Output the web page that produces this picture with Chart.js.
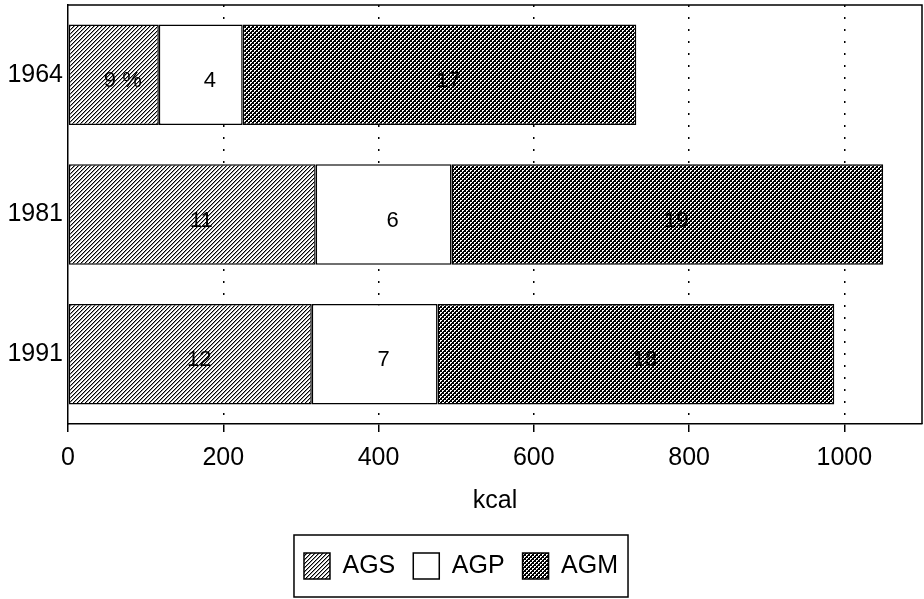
<!DOCTYPE html>
<html lang="es">
<head>
<meta charset="utf-8">
<title>AGS AGP AGM kcal</title>
<script src="https://cdn.jsdelivr.net/npm/chart.js@4.4.1/dist/chart.umd.min.js"></script>
<style>
  html, body { margin: 0; padding: 0; background: #fff; }
  #contenedor { position: relative; width: 924px; height: 599px; }
</style>
</head>
<body>
<div id="contenedor"><canvas id="grafico"></canvas></div>
<script>
// Datos (kcal por segmento)
const anios = ['1964', '1981', '1991'];
const serieAGS = [117, 319, 314];
const serieAGP = [108, 175, 162];
const serieAGM = [507, 556, 511];
// Porcentajes escritos dentro de las barras
const etiquetasAGS = ['9 %', '11', '12'];
const etiquetasAGP = ['4', '6', '7'];
const etiquetasAGM = ['17', '19', '18'];
const ticksX = [0, 200, 400, 600, 800, 1000];
const maxX = 1100;

const fuente = "'Liberation Sans', Arial, Helvetica, sans-serif";

// Funcion para crear una trama de relleno
function trama(tam, dibujar) {
    const c = document.createElement('canvas');
    c.width = tam;
    c.height = tam;
    const g = c.getContext('2d');
    dibujar(g);
    return g.createPattern(c, 'repeat');
}

// Rayado diagonal para AGS
const tramaAGS = trama(4, g => {
    g.fillStyle = '#fff';
    g.fillRect(0, 0, 4, 4);
    for (let i = 0; i < 4; i++) {
        g.fillStyle = '#000';
        g.fillRect(i, 3 - i, 1, 1);
        g.fillStyle = '#999';
        g.fillRect((i + 1) % 4, 3 - i, 1, 1);
    }
});

// Cuadriculado fino para AGM (algo mas oscuro)
const tramaAGM = trama(4, g => {
    g.fillStyle = '#000';
    g.fillRect(0, 0, 4, 4);
    g.fillStyle = '#fff';
    g.fillRect(0, 0, 2, 1);
    g.fillRect(0, 1, 1, 1);
    g.fillRect(2, 2, 2, 1);
    g.fillRect(2, 3, 1, 1);
});

// Plugin: textos dentro de cada segmento
const etiquetasBarras = {
    id: 'etiquetasBarras',
    afterDatasetsDraw(chart) {
        const c = chart.ctx;
        c.save();
        c.font = '22px ' + fuente;
        c.fillStyle = '#000';
        c.textAlign = 'center';
        c.textBaseline = 'middle';
        chart.data.datasets.forEach((ds, i) => {
            chart.getDatasetMeta(i).data.forEach((barra, j) => {
                const p = barra.getProps(['x', 'base', 'y'], true);
                c.fillText(ds.etiquetas[j], (p.x + p.base) / 2 + 9, p.y + 6);
            });
        });
        c.restore();
    }
};

// Plugin: marco del area y caja de la leyenda
const marcoYLeyenda = {
    id: 'marcoYLeyenda',
    afterDraw(chart) {
        const c = chart.ctx;
        const a = chart.chartArea;
        c.save();
        c.strokeStyle = '#000';
        c.lineWidth = 1.5;
        c.beginPath();
        c.moveTo(a.left, a.top);
        c.lineTo(a.right, a.top);
        c.lineTo(a.right, a.bottom);
        c.stroke();

        const cajas = chart.legend.legendHitBoxes;
        if (cajas && cajas.length) {
            const izq = Math.min(...cajas.map(b => b.left)) - 10;
            const der = Math.max(...cajas.map(b => b.left + b.width)) + 10;
            const arriba = cajas[0].top - 18;
            const abajo = cajas[0].top + cajas[0].height + 18;
            c.strokeRect(izq, arriba, der - izq, abajo - arriba);
        }
        c.restore();
    }
};

const ctx = document.getElementById('grafico').getContext('2d');
new Chart(ctx, {
    type: 'bar',
    data: {
        labels: anios,
        datasets: [
            { label: 'AGS', data: serieAGS, etiquetas: etiquetasAGS, backgroundColor: tramaAGS, borderColor: '#000', borderWidth: 1.5, borderSkipped: false },
            { label: 'AGP', data: serieAGP, etiquetas: etiquetasAGP, backgroundColor: '#fff', borderColor: '#000', borderWidth: 1.5, borderSkipped: false },
            { label: 'AGM', data: serieAGM, etiquetas: etiquetasAGM, backgroundColor: tramaAGM, borderColor: '#000', borderWidth: 1.5, borderSkipped: false }
        ]
    },
    options: {
        indexAxis: 'y',
        responsive: true,
        maintainAspectRatio: false,
        animation: false,
        layout: { padding: { top: 5, right: 2, bottom: 10, left: 0 } },
        scales: {
            x: {
                stacked: true,
                min: 0,
                max: maxX,
                afterBuildTicks: eje => { eje.ticks = ticksX.map(v => ({ value: v })); },
                afterFit: eje => { eje.paddingLeft = 0; eje.paddingRight = 0; },
                ticks: {
                    color: '#000',
                    font: { family: fuente, size: 25 },
                    padding: 11,
                    maxRotation: 0,
                    autoSkip: false,
                    callback: v => String(v)
                },
                grid: {
                    color: c => (c.tick && c.tick.value === 0) ? 'rgba(0,0,0,0)' : '#000',
                    lineWidth: 1.5,
                    tickLength: 8,
                    tickColor: '#000',
                    tickWidth: 1.5
                },
                border: { display: true, color: '#000', width: 1.5, dash: [2, 10] },
                title: {
                    display: true,
                    text: 'kcal',
                    color: '#000',
                    font: { family: fuente, size: 25 },
                    padding: { top: 2, bottom: 19 }
                }
            },
            y: {
                stacked: true,
                afterFit: eje => {
                    eje.width = 68;
                    eje.paddingTop = 0;
                    eje.paddingBottom = 0;
                },
                ticks: { color: '#000', font: { family: fuente, size: 25 }, padding: 5 },
                grid: { display: false, drawTicks: false },
                border: { display: true, color: '#000', width: 1.5 }
            }
        },
        plugins: {
            legend: {
                position: 'bottom',
                labels: {
                    boxWidth: 26,
                    boxHeight: 26,
                    padding: 18,
                    color: '#000',
                    font: { family: fuente, size: 25 }
                }
            },
            tooltip: { enabled: false }
        }
    },
    plugins: [etiquetasBarras, marcoYLeyenda]
});
</script>
</body>
</html>
